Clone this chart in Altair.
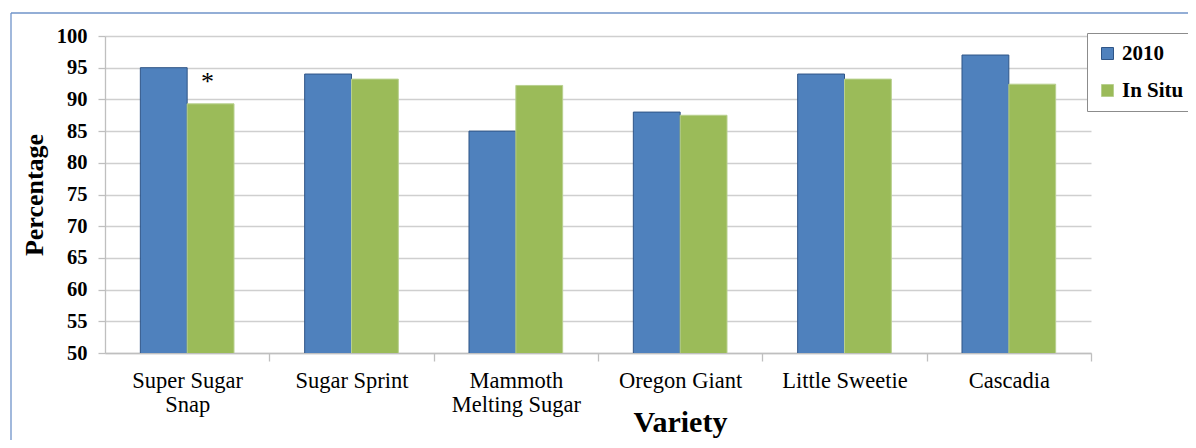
import altair as alt
import pandas as pd

varieties = ["Super Sugar Snap", "Sugar Sprint", "Mammoth Melting Sugar",
             "Oregon Giant", "Little Sweetie", "Cascadia"]
series_names = ["2010", "In Situ"]
values_2010 = [95.0, 94.0, 85.0, 88.0, 94.0, 97.0]
values_insitu = [89.3, 93.2, 92.2, 87.5, 93.2, 92.4]
y_ticks = [50, 55, 60, 65, 70, 75, 80, 85, 90, 95, 100]
annot_variety = ["Super Sugar Snap"]
annot_series = ["In Situ"]
annot_text = ["*"]

rows = []
for v, a, b in zip(varieties, values_2010, values_insitu):
    rows.append({"variety": v, "series": "2010", "value": a})
    rows.append({"variety": v, "series": "In Situ", "value": b})
df = pd.DataFrame(rows)

ann = pd.DataFrame({
    "variety": annot_variety,
    "series": annot_series,
    "text": annot_text,
})
ann = ann.merge(df, on=["variety", "series"])

FONT = "Liberation Serif"
W, H = 986, 317
HALF_STEP = W / len(varieties) / 2

label_expr = (
    "datum.label == 'Super Sugar Snap' ? ['Super Sugar', 'Snap'] : "
    "datum.label == 'Mammoth Melting Sugar' ? ['Mammoth', 'Melting Sugar'] : datum.label"
)

x_scale = alt.Scale(paddingInner=0.43, paddingOuter=0.215)
y_scale = alt.Scale(domain=[50, 100], nice=False, zero=False)

x_axis = alt.Axis(
    title="Variety", titleFont=FONT, titleFontSize=30, titleFontWeight="bold",
    titleColor="black", titleX=575, titleY=78, titleBaseline="alphabetic",
    titleAlign="center", titleAnchor="start",
    labelFont=FONT, labelFontSize=22.5, labelColor="black", labelAngle=0,
    labelExpr=label_expr, labelLineHeight=24, labelPadding=8,
    labelBaseline="top", labelOffset=-HALF_STEP, tickOffset=HALF_STEP,
    tickSize=8, tickColor="#bfbfbf", tickWidth=1.3,
    domainColor="#bfbfbf", domainWidth=1.3, grid=False,
)

y_axis = alt.Axis(
    values=y_ticks, title="Percentage", titleFont=FONT, titleFontSize=26,
    titleFontWeight="bold", titleColor="black", titlePadding=9,
    labelFont=FONT, labelFontSize=20.5, labelFontWeight="bold", labelColor="black",
    labelPadding=11, labelOverlap=False, tickSize=7, tickColor="#bfbfbf", tickWidth=1.3,
    domainColor="#bfbfbf", domainWidth=1.3,
    gridColor="#cfcfcf", gridWidth=1.5,
)

legend_kw = dict(title=None, orient="none", legendX=982, legendY=-3,
                 labelFont=FONT, labelFontSize=21, labelFontWeight="bold",
                 labelColor="black", symbolType="square", symbolSize=144,
                 symbolStrokeWidth=1, rowPadding=15, labelOffset=4,
                 padding=10, strokeColor="#8c8c8c", fillColor="white")

bars = alt.Chart(df).mark_bar(strokeWidth=1, clip=True).encode(
    x=alt.X("variety:N", sort=varieties, scale=x_scale, axis=x_axis),
    xOffset=alt.XOffset("series:N", sort=series_names),
    y=alt.Y("value:Q", scale=y_scale, axis=y_axis),
    fill=alt.Fill("series:N", sort=series_names,
                  scale=alt.Scale(domain=series_names, range=["#4f81bd", "#9bbb59"]),
                  legend=alt.Legend(**legend_kw)),
    stroke=alt.Stroke("series:N", sort=series_names,
                      scale=alt.Scale(domain=series_names, range=["#2f5587", "#b8d08f"]),
                      legend=alt.Legend(**legend_kw)),
)

stars = alt.Chart(ann).mark_text(font=FONT, fontSize=26, dy=-22, dx=-3, color="black").encode(
    x=alt.X("variety:N", sort=varieties, scale=x_scale, axis=x_axis),
    xOffset=alt.XOffset("series:N", sort=series_names),
    y=alt.Y("value:Q", scale=y_scale, axis=y_axis),
    text="text:N",
)

border_top = alt.Chart(pd.DataFrame({"a": [0]})).mark_rule(color="#6f93c9", strokeWidth=1.3).encode(
    x=alt.value(-94), x2=alt.value(1200), y=alt.value(-23)
)
border_left = alt.Chart(pd.DataFrame({"a": [0]})).mark_rule(color="#6f93c9", strokeWidth=1.3).encode(
    x=alt.value(-94), y=alt.value(-23), y2=alt.value(500)
)

chart = alt.layer(bars, stars, border_top, border_left).properties(
    width=W, height=H,
    autosize=alt.AutoSizeParams(type="none"),
    padding={"left": 97, "top": 28, "right": 97, "bottom": 87},
    background="white",
).configure_view(stroke=None)

chart.save("out.html", embed_options={"renderer": "svg", "actions": False})
